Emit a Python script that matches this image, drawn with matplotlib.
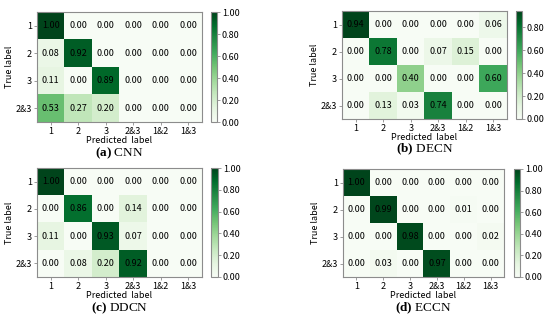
import matplotlib
matplotlib.use("Agg")
import matplotlib.pyplot as plt
import numpy as np

plt.rcParams['font.family'] = ['Noto Sans CJK SC', 'DejaVu Sans']
plt.rcParams['mathtext.fontset'] = 'custom'
plt.rcParams['mathtext.rm'] = 'Liberation Serif'
plt.rcParams['mathtext.bf'] = 'Liberation Serif:bold'

pred_labels = ["1", "2", "3", "2&3", "1&2", "1&3"]
true_labels = ["1", "2", "3", "2&3"]

cnn = [[1.00, 0.00, 0.00, 0.00, 0.00, 0.00],
       [0.08, 0.92, 0.00, 0.00, 0.00, 0.00],
       [0.11, 0.00, 0.89, 0.00, 0.00, 0.00],
       [0.53, 0.27, 0.20, 0.00, 0.00, 0.00]]
decn = [[0.94, 0.00, 0.00, 0.00, 0.00, 0.06],
        [0.00, 0.78, 0.00, 0.07, 0.15, 0.00],
        [0.00, 0.00, 0.40, 0.00, 0.00, 0.60],
        [0.00, 0.13, 0.03, 0.74, 0.00, 0.00]]
ddcn = [[1.00, 0.00, 0.00, 0.00, 0.00, 0.00],
        [0.00, 0.86, 0.00, 0.14, 0.00, 0.00],
        [0.11, 0.00, 0.93, 0.07, 0.00, 0.00],
        [0.00, 0.08, 0.20, 0.92, 0.00, 0.00]]
eccn = [[1.00, 0.00, 0.00, 0.00, 0.00, 0.00],
        [0.00, 0.99, 0.00, 0.00, 0.01, 0.00],
        [0.00, 0.00, 0.98, 0.00, 0.00, 0.02],
        [0.00, 0.03, 0.00, 0.97, 0.00, 0.00]]

panels = [("a", "CNN", cnn), ("b", "DECN", decn), ("c", "DDCN", ddcn), ("d", "ECCN", eccn)]

W, H = 550, 320
# pixel boxes: heatmap (x0, y0, x1, y1), colorbar x0, x1, caption y
boxes = [
    ((37, 12, 202, 122), (211, 217), 153),
    ((342, 11, 507, 119), (516, 522), 149),
    ((37, 168, 202, 277), (211, 218), 308),
    ((343, 169, 504, 277), (514, 520), 308),
]

FS = 6.5
edge = "#8c8c8c"


def fbox(x0, y0, x1, y1):
    return [x0 / W, 1 - y1 / H, (x1 - x0) / W, (y1 - y0) / H]


def main():
    fig = plt.figure(figsize=(5.5, 3.2), dpi=100)
    fig.patch.set_facecolor("white")

    for (letter, name, data), (hb, cb, cap_y) in zip(panels, boxes):
        m = np.array(data)
        ax = fig.add_axes(fbox(*hb))
        im = ax.imshow(m, cmap="Greens", vmin=0, vmax=m.max(), aspect="auto")
        for i in range(m.shape[0]):
            for j in range(m.shape[1]):
                ax.text(j, i, "%.2f" % m[i, j], ha="center", va="center",
                        fontsize=FS, color="black")
        ax.set_xticks(range(len(pred_labels)))
        ax.set_xticklabels(pred_labels, fontsize=FS)
        ax.set_yticks(range(len(true_labels)))
        ax.set_yticklabels(true_labels, fontsize=FS)
        ax.tick_params(length=2, width=0.6, pad=1.5, color=edge)
        ax.set_xlabel("Predicted  label", fontsize=FS, labelpad=0)
        ax.set_ylabel("True label", fontsize=FS, labelpad=1.5)
        for s in ax.spines.values():
            s.set_color(edge)
            s.set_linewidth(0.8)

        cax = fig.add_axes(fbox(cb[0], hb[1], cb[1], hb[3]))
        cbar = fig.colorbar(im, cax=cax, ticks=np.arange(0, 1.01, 0.2), format="%.2f")
        cbar.ax.tick_params(labelsize=FS, length=2, width=0.6, pad=1.5, color=edge)
        cbar.outline.set_edgecolor(edge)
        cbar.outline.set_linewidth(0.8)

        cx = (hb[0] + hb[2]) / 2 / W
        fig.text(cx, 1 - cap_y / H, r"$\mathbf{(%s)}$ %s" % (letter, name),
                 ha="center", va="center", fontsize=9.5,
                 family="Liberation Serif")

    fig.savefig("out.png", dpi=100)


if __name__ == "__main__":
    main()
